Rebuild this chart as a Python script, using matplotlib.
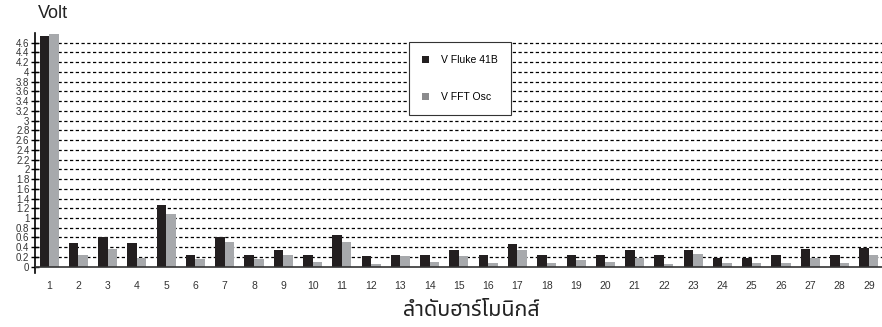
import matplotlib
matplotlib.use("Agg")
import matplotlib.pyplot as plt
from matplotlib.patches import Patch
import numpy as np

harmonics = list(range(1, 30))
v_fluke = [4.74, 0.48, 0.61, 0.49, 1.27, 0.25, 0.61, 0.25, 0.35, 0.25,
           0.65, 0.21, 0.23, 0.23, 0.35, 0.25, 0.47, 0.25, 0.25, 0.25,
           0.35, 0.25, 0.35, 0.17, 0.17, 0.25, 0.37, 0.25, 0.39]
v_fft = [4.78, 0.24, 0.37, 0.17, 1.09, 0.16, 0.51, 0.16, 0.25, 0.09,
         0.51, 0.05, 0.22, 0.09, 0.22, 0.07, 0.35, 0.07, 0.13, 0.09,
         0.17, 0.05, 0.27, 0.07, 0.07, 0.07, 0.17, 0.07, 0.25]
y_ticks = [round(0.2 * i, 1) for i in range(0, 24)]
series_names = ["V Fluke 41B", "V FFT Osc"]

plt.rcParams["font.family"] = ["Liberation Sans", "DejaVu Sans", "Noto Sans Thai",
                               "Loma", "Garuda", "Tlwg Typo"]

fig = plt.figure(figsize=(8.82, 3.27), dpi=100)
ax = fig.add_axes([35 / 882, (327 - 273) / 327, 847 / 882, (273 - 33) / 327])

x = np.array(harmonics, dtype=float)
w = 0.325
ax.bar(x - w / 2, v_fluke, width=w, color="#231f20", zorder=3)
ax.bar(x + w / 2, v_fft, width=w, color="#a7a9ac", zorder=3)

ax.set_xlim(0.52, 29.45)
ax.set_ylim(-0.13, 4.8)

for v in y_ticks[1:]:
    ax.axhline(v, color="black", lw=0.9, ls=(0, (2.6, 2.0)), zorder=1)
ax.axhline(0, color="#333333", lw=1.2, zorder=4)

ax.set_yticks(y_ticks)
ax.set_yticklabels([f"{v:g}" for v in y_ticks], fontsize=7, color="#333333")
ax.tick_params(axis="y", direction="inout", length=6, width=1, pad=1)
ax.set_xticks(harmonics)
ax.set_xticklabels([str(h) for h in harmonics], fontsize=7.5, color="#333333")
ax.tick_params(axis="x", length=0, pad=6)

for s in ["top", "right", "bottom"]:
    ax.spines[s].set_visible(False)
ax.spines["left"].set_linewidth(1.2)

fig.text(38 / 882, 1 - 13 / 327, "Volt", fontsize=13, va="center", ha="left", color="#222222")
fig.text(471 / 882, 1 - 311 / 327, "ลำดับฮาร์โมนิกส์", fontsize=15.5, va="center",
         ha="center", color="#222222")

handles = [Patch(facecolor="#231f20"), Patch(facecolor="#8b8b8d")]
leg = fig.legend(handles, series_names, loc="upper left",
                 bbox_to_anchor=(409 / 882, 1 - 42 / 327), bbox_transform=fig.transFigure,
                 fontsize=7.5, frameon=True, fancybox=False,
                 handlelength=0.7, handleheight=0.7, labelspacing=2.6, borderpad=1.25,
                 handletextpad=1.15, borderaxespad=0)
leg.get_frame().set_edgecolor("#333333")
leg.get_frame().set_linewidth(0.8)
leg.get_frame().set_alpha(1)
leg.set_zorder(5)

fig.savefig("out.png", dpi=100)
